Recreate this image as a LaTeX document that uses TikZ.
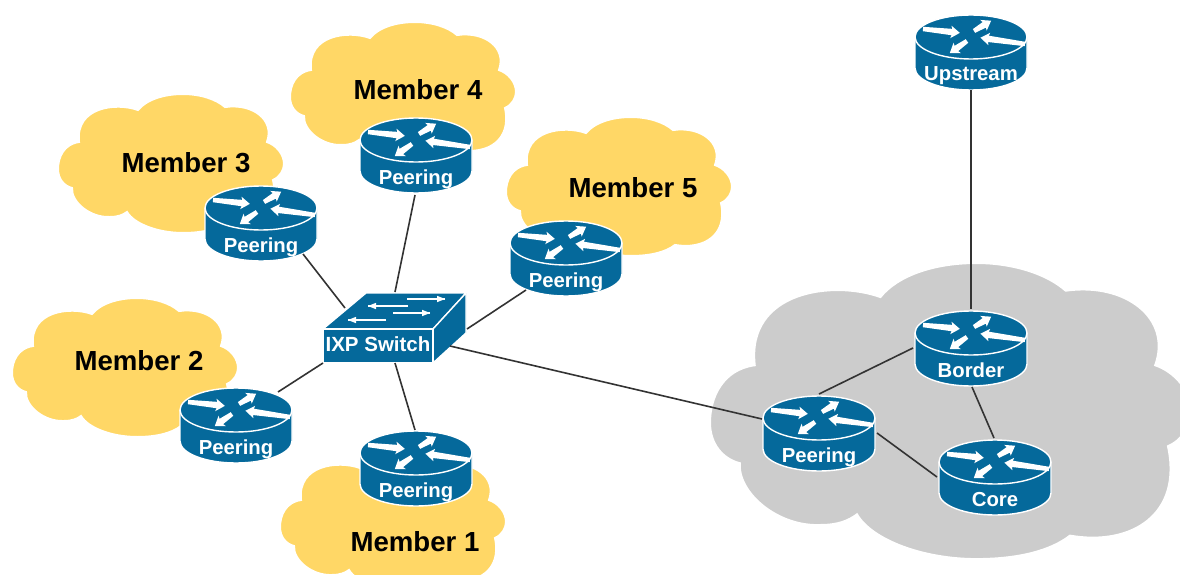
\documentclass[tikz,border=0pt]{standalone}
\usepackage{fontspec}
\setmainfont{Liberation Sans}
\definecolor{rblue}{HTML}{05699B}
\definecolor{cyell}{HTML}{FFD766}
\definecolor{cgrey}{HTML}{CCCCCC}
\definecolor{lnk}{HTML}{333333}
\tikzset{
  rbody/.style={fill=rblue,draw=white,line width=1.4pt,line join=round},
  link/.style={draw=lnk,line width=1.6pt},
  rlabel/.style={text=white,font=\fontsize{20.3}{20.3}\selectfont\bfseries,inner sep=0pt,anchor=base},
  mlabel/.style={text=black,font=\fontsize{27.6}{27.6}\selectfont\bfseries,inner sep=0pt},
  anchorbox/.style={inner sep=0pt,minimum width=114pt,minimum height=78pt},
  cloudshape/.pic={
    \path[pic actions,draw=white,line width=2pt]
      (21,48) .. controls (6,50) and (0,63) .. (0,75)
      .. controls (0,85) and (6,92) .. (14,94)
      .. controls (13,108) and (32,124) .. (52,123)
      .. controls (60,123) and (65,121) .. (69,118)
      .. controls (76,130) and (100,139) .. (125,139)
      .. controls (145,139) and (160,135) .. (169,128)
      .. controls (198,133) and (222,118) .. (215,86)
      .. controls (222,83) and (226,76) .. (226,70)
      .. controls (226,60) and (218,51) .. (209,48)
      .. controls (217,26) and (195,9) .. (167,13)
      .. controls (158,5) and (142,0) .. (125,0)
      .. controls (105,0) and (88,6) .. (80,16)
      .. controls (58,8) and (17,13) .. (21,48) -- cycle;
  }
}
% tail x, tail y, angle, length
\newcommand{\rarrow}[4]{%
  \fill[white,shift={(#1,#2)},rotate=#3]
    (0,-2.2) -- (#4-8,-3.2) -- (#4-9,-6.3) -- (#4,0) -- (#4-9,6.3) -- (#4-8,3.2) -- (0,2.2) -- cycle;}
% name, cx, cy, label
\newcommand{\router}[4]{%
  \begin{scope}[shift={(#2,#3)}]
    \path[rbody] (-56,-15) -- (-56,16)
      arc[start angle=180,end angle=360,x radius=56pt,y radius=22pt]
      -- (56,-15)
      arc[start angle=0,end angle=180,x radius=56pt,y radius=22pt] -- cycle;
    \draw[white,line width=1.4pt] (-56,-15)
      arc[start angle=180,end angle=360,x radius=56pt,y radius=22pt];
    \rarrow{-48}{-23}{-6}{37}
    \rarrow{3}{-21}{31}{20}
    \rarrow{54}{-8}{172}{45}
    \rarrow{-4}{-11}{215}{21}
  \end{scope}
  \node[anchorbox] (#1) at (#2,#3) {};
  \node[rlabel] (#1-label) at (#2,#3+29) {#4};}
\begin{document}
\begin{tikzpicture}[x=1pt,y=-1pt]
\useasboundingbox (0,0) rectangle (1180,575);
\clip (0,0) rectangle (1180,575);
% clouds
\pic[fill=cyell] at (290,22) {cloudshape};
\pic[fill=cyell] at (58,94) {cloudshape};
\pic[fill=cyell] at (506,117) {cloudshape};
\pic[fill=cyell] at (12,298) {cloudshape};
\pic[fill=cyell] at (280,452) {cloudshape};
\pic[fill=cgrey,scale=2.13] at (710,263) {cloudshape};
% member labels
\node[mlabel] (t4) at (418,90) {Member 4};
\node[mlabel] (t3) at (186,163) {Member 3};
\node[mlabel] (t5) at (633,188) {Member 5};
\node[mlabel] (t2) at (139,361) {Member 2};
\node[mlabel] (t1) at (415,542) {Member 1};
% routers
\router{m4}{416}{155}{Peering}
\router{m3}{261}{223}{Peering}
\router{m5}{566}{258}{Peering}
\router{m2}{236}{425}{Peering}
\router{m1}{416}{468}{Peering}
\router{up}{971}{52}{Upstream}
\router{bd}{971}{348}{Border}
\router{pr}{819}{433}{Peering}
\router{co}{995}{477}{Core}
% switch
\path[rbody] (323,329) -- (366,293) -- (466,293) -- (433,329) -- cycle;
\path[rbody] (433,329) -- (466,293) -- (466,333) -- (433,363) -- cycle;
\path[rbody] (323,329) rectangle (433,363);
\foreach \xa/\xb/\yy in {407/445/299,408/368/306,393/430/313,386/348/320}{
  \draw[white,line width=1.2pt] (\xa,\yy) -- (\xb,\yy);
  \pgfmathsetmacro{\sgn}{\xb>\xa ? 1 : -1}
  \fill[white] (\xb,\yy) -- (\xb-\sgn*8,\yy-3.2) -- (\xb-\sgn*8,\yy+3.2) -- cycle;
}
\node[rlabel,font=\fontsize{20.5}{20.5}\selectfont\bfseries] (sw) at (378,351) {IXP Switch};
% connectors
\draw[link] ([shift={(-1,40)}]m4.center) -- ([shift={(17,-59)}]sw.base);
\draw[link] ([shift={(42,31)}]m3.center) -- ([shift={(-33,-43)}]sw.base);
\draw[link] ([shift={(-40,32)}]m5.center) -- ([shift={(89,-22)}]sw.base);
\draw[link] ([shift={(42,-33)}]m2.center) -- ([shift={(-55,12)}]sw.base);
\draw[link] ([shift={(-1,-38)}]m1.center) -- ([shift={(17,12)}]sw.base);
\draw[link] ([shift={(72,-5)}]sw.base) -- ([shift={(-57,-14)}]pr.center);
\draw[link] ([shift={(0,38)}]up.center) -- ([shift={(0,-39)}]bd.center);
\draw[link] ([shift={(-58,0)}]bd.center) -- ([shift={(0,-39)}]pr.center);
\draw[link] ([shift={(1,39)}]bd.center) -- ([shift={(-1,-39)}]co.center);
\draw[link] ([shift={(58,0)}]pr.center) -- ([shift={(-58,0)}]co.center);
\end{tikzpicture}
\end{document}
